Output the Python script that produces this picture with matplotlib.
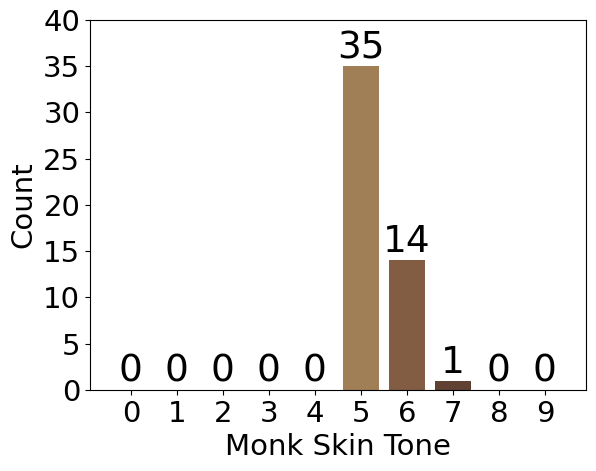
import numpy as np
import matplotlib.pyplot as plt

tones = [0, 1, 2, 3, 4, 5, 6, 7, 8, 9]
counts = [0, 0, 0, 0, 0, 35, 14, 1, 0, 0]
monk_colors = ["#f6ede4", "#f3e7db", "#f7ead0", "#eadaba", "#d7bd96",
               "#a07e56", "#825c43", "#604134", "#3a312a", "#292420"]

fig, ax = plt.subplots(figsize=(5.96, 4.71), dpi=100)
fig.subplots_adjust(left=0.151, right=0.983, top=0.958, bottom=0.172)

bars = ax.bar(tones, counts, color=monk_colors)
ax.bar_label(bars, fontsize=27, padding=0)

ax.set_xticks(tones)
ax.set_yticks(np.arange(0, 41, 5))
ax.set_ylim(0, 40)
ax.tick_params(labelsize=21)
ax.set_xlabel("Monk Skin Tone", fontsize=21)
ax.set_ylabel("Count", fontsize=21)

fig.savefig("out.png")
